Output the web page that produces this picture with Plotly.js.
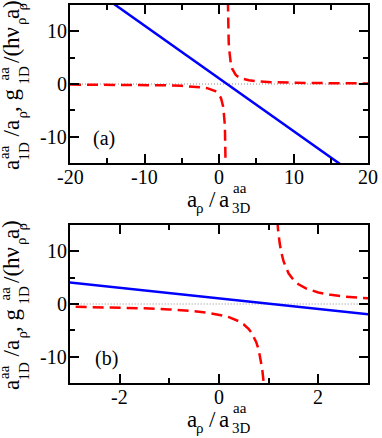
<!DOCTYPE html>
<html><head><meta charset="utf-8">
<script src="https://cdn.plot.ly/plotly-3.0.1.min.js"></script>
<style>html,body{margin:0;padding:0;background:#fff}</style>
</head><body><div id="plot" style="width:382px;height:438px"></div>
<script>
// ---- data ----
const blueX = [-20, -3, 3, 20];
const blueY = [21.1, 4.05, -1.9, -18.95];

const redLeftX = [-20, -16, -12, -9, -7, -5, -4, -3, -2.5, -2, -1.5, -1, -0.75, -0.5, -0.25, 0, 0.1, 0.2, 0.3, 0.4, 0.5, 0.55, 0.6, 0.65, 0.7, 0.75, 0.8, 0.84, 0.87, 0.9, 0.93];
const redLeftY = [-0.10, -0.123, -0.161, -0.209, -0.261, -0.348, -0.417, -0.52, -0.593, -0.691, -0.827, -1.029, -1.173, -1.364, -1.628, -2.019, -2.234, -2.5, -2.838, -3.281, -3.889, -4.286, -4.773, -5.385, -6.176, -7.241, -8.75, -10.5, -12.35, -15.0, -19.1];

const redRightX = [1.15, 1.17, 1.19, 1.22, 1.25, 1.3, 1.35, 1.4, 1.5, 1.6, 1.75, 2, 2.25, 2.5, 3, 4, 5, 7, 9, 12, 16, 20];
const redRightY = [19.1, 16.15, 14.0, 11.67, 10.0, 8.08, 6.77, 5.83, 4.565, 3.75, 2.958, 2.188, 1.736, 1.438, 1.071, 0.709, 0.53, 0.352, 0.264, 0.192, 0.14, 0.111];

const zeroX = [-20, 20];
const zeroY = [0, 0];

const topXTickVals = [-20, -10, 0, 10, 20];
const topXTickText = ['-20', '-10', '0', '10', '20'];
const topXMinor = [-15, -5, 5, 15];
const botXTickVals = [-2, 0, 2];
const botXTickText = ['-2', '0', '2'];
const botXMinor = [-3, -1, 1, 3];
const yTickVals = [-10, 0, 10];
const yTickText = ['-10', '0', '10'];
const yMinor = [-15, -5, 5, 15];
const panelLabels = ['(a)', '(b)'];

// ---- styling / layout ----
const SERIF = 'Liberation Serif';
const RED = '#ff0000', BLUE = '#0000ff';

function panelTraces(xa, ya) {
  return [
    {x: zeroX, y: zeroY, xaxis: xa, yaxis: ya, mode: 'lines', line: {color: '#8c8c8c', width: 1, dash: '1px,2px'}},
    {x: redLeftX, y: redLeftY, xaxis: xa, yaxis: ya, mode: 'lines', line: {color: RED, width: 2.5, dash: '11px,6px'}},
    {x: redRightX, y: redRightY, xaxis: xa, yaxis: ya, mode: 'lines', line: {color: RED, width: 2.5, dash: '11px,6px'}},
    {x: blueX, y: blueY, xaxis: xa, yaxis: ya, mode: 'lines', line: {color: BLUE, width: 2.5}}
  ];
}

function axisBase(tickvals, minorvals) {
  return {
    showline: true, linewidth: 2, linecolor: '#000', mirror: 'allticks',
    ticks: 'inside', ticklen: 9, tickwidth: 2, tickcolor: '#000',
    showgrid: false, zeroline: false, showticklabels: false,
    tickmode: 'array', tickvals: tickvals,
    minor: {tickmode: 'array', tickvals: minorvals, ticks: 'inside', ticklen: 5, tickwidth: 2, tickcolor: '#000', showgrid: false},
    fixedrange: true
  };
}

// pixel -> paper helpers (plot area: x 70..368, y 5..383)
const L = 70, R = 368, T = 5, B = 383;
function px(x) { return (x - L) / (R - L); }
function py(y) { return (B - y) / (B - T); }

function ann(text, x, y, xref, yref, size, angle, xanchor) {
  return {
    text: text, x: x, y: y, xref: xref, yref: yref,
    xanchor: xanchor || 'center', yanchor: 'middle', showarrow: false, textangle: angle || 0,
    borderpad: 0, borderwidth: 0,
    font: {family: SERIF, size: size, color: '#000'}
  };
}

function titlePieces(dy) {
  const main = 23, small = 15;
  // [text, cx, cy, size, angle]
  const p = [
    ['a', 192, 199.2, main, 0],
    ['ρ', 200, 208.2, small, 0],
    ['/', 212, 199.2, main, 0],
    ['a', 224, 199.2, main, 0],
    ['aa', 240, 188.2, small, 0],
    ['3D', 241, 208.2, small, 0],
    // y title (rotated)
    ['a', 11, 165, main, -90],
    ['aa', 4, 152, small, -90],
    ['1D', 23.5, 151, small, -90],
    ['/a', 11, 128.5, main, -90],
    ['ρ', 21.5, 115, small, -90],
    [', g', 11, 100, main, -90],
    ['aa', 4, 73.5, small, -90],
    ['1D', 23.5, 75, small, -90],
    ['/(hν', 11, 45, main, -90],
    ['ρ', 21.5, 21.5, small, -90],
    ['a', 11, 14, main, -90],
    ['ρ', 21.5, 7, small, -90],
    [')', 11, 4, main, -90]
  ];
  return p.map(q => ann(q[0], px(q[1]), py(q[2] + dy), 'paper', 'paper', q[3], q[4]));
}

function tickLabels(xa, ya, xvals, xtext, dy) {
  const out = [];
  xvals.forEach((v, i) => out.push(ann(xtext[i], v, py(176.7 + dy), xa, 'paper', 20, 0)));
  yTickVals.forEach((v, i) => out.push(ann(yTickText[i], px(67), v, 'paper', ya, 20, 0, 'right')));
  return out;
}

const annotations = [].concat(
  titlePieces(0), titlePieces(220),
  tickLabels('x', 'y', topXTickVals, topXTickText, 0),
  tickLabels('x2', 'y2', botXTickVals, botXTickText, 220),
  [
    ann(panelLabels[0], px(104), py(138), 'paper', 'paper', 20, 0),
    ann(panelLabels[1], px(106), py(358), 'paper', 'paper', 20, 0)
  ]
);

const layout = {
  width: 382, height: 438,
  margin: {l: L, r: 382 - R, t: T, b: 438 - B},
  paper_bgcolor: '#fff', plot_bgcolor: '#fff',
  font: {family: SERIF, color: '#000'},
  showlegend: false, hovermode: false,
  xaxis: Object.assign(axisBase(topXTickVals, topXMinor), {anchor: 'y', domain: [0, 1], range: [-20, 20]}),
  yaxis: Object.assign(axisBase(yTickVals, yMinor), {anchor: 'x', domain: [(B - 163) / (B - T), 1], range: [-15, 15]}),
  xaxis2: Object.assign(axisBase(botXTickVals, botXMinor), {anchor: 'y2', domain: [0, 1], range: [-3, 3]}),
  yaxis2: Object.assign(axisBase(yTickVals, yMinor), {anchor: 'x2', domain: [0, (B - 225) / (B - T)], range: [-15, 15]}),
  annotations: annotations
};

const data = [].concat(panelTraces('x', 'y'), panelTraces('x2', 'y2'));
Plotly.newPlot('plot', data, layout, {staticPlot: true, displayModeBar: false});
</script>
</body></html>
